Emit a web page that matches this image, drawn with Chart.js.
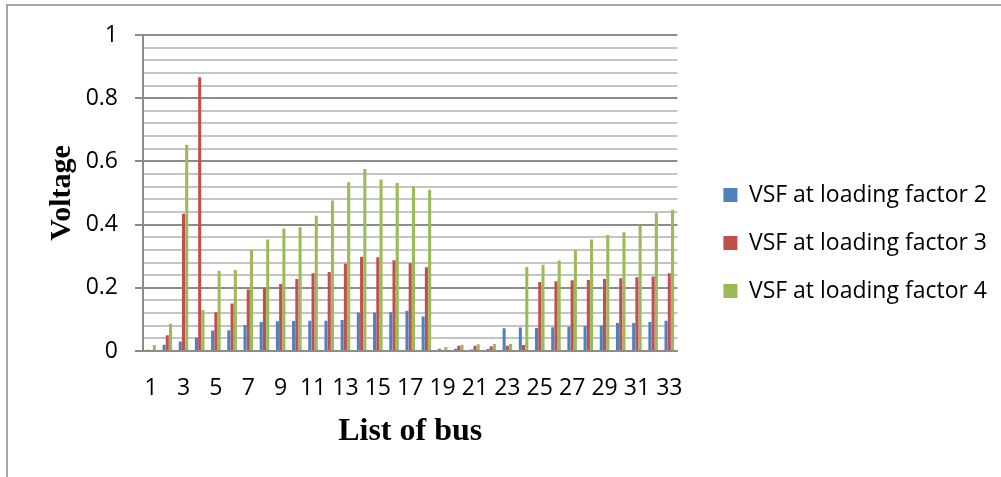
<!DOCTYPE html>
<html>
<head>
<meta charset="utf-8">
<title>VSF at loading factors</title>
<script src="https://cdn.jsdelivr.net/npm/chart.js@4.4.1/dist/chart.umd.min.js"></script>
<style>
	html, body { margin: 0; padding: 0; background: #ffffff; }
	#wrap { position: relative; width: 1001px; height: 477px; overflow: hidden; }
	#frame { position: absolute; left: 6px; top: 4px; width: 1100px; height: 600px; border-left: 2px solid #a6a6a6; border-top: 2px solid #a6a6a6; }
	#vsf-chart { position: absolute; left: 0; top: 0; }
</style>
</head>
<body>
<div id="wrap">
	<div id="frame"></div>
	<canvas id="vsf-chart" width="1001" height="477"></canvas>
</div>
<script>
(function () {
	'use strict';

	var busLabels = ['1', '2', '3', '4', '5', '6', '7', '8', '9', '10', '11', '12', '13', '14', '15', '16', '17',
		'18', '19', '20', '21', '22', '23', '24', '25', '26', '27', '28', '29', '30', '31', '32', '33'];

	var lf2Values = [0.004, 0.02, 0.03, 0.043, 0.065, 0.066, 0.082, 0.092, 0.094, 0.095, 0.096, 0.096, 0.098,
		0.122, 0.122, 0.123, 0.127, 0.109, 0.007, 0.007, 0.005, 0.006, 0.072, 0.074, 0.073, 0.075, 0.077,
		0.079, 0.081, 0.089, 0.089, 0.092, 0.096];

	var lf3Values = [0.002, 0.05, 0.434, 0.866, 0.123, 0.15, 0.195, 0.2, 0.212, 0.228, 0.246, 0.25, 0.276,
		0.298, 0.297, 0.287, 0.278, 0.265, 0.002, 0.017, 0.017, 0.015, 0.017, 0.019, 0.218, 0.221, 0.224,
		0.225, 0.228, 0.23, 0.233, 0.236, 0.246];

	var lf4Values = [0.019, 0.086, 0.653, 0.13, 0.254, 0.256, 0.32, 0.353, 0.388, 0.392, 0.428, 0.476, 0.534,
		0.576, 0.543, 0.532, 0.521, 0.51, 0.013, 0.019, 0.021, 0.022, 0.022, 0.266, 0.273, 0.286, 0.32,
		0.353, 0.367, 0.376, 0.398, 0.437, 0.446];

	var seriesNames = ['VSF at loading factor 2', 'VSF at loading factor 3', 'VSF at loading factor 4'];
	var seriesColors = ['#4f81bd', '#c0504d', '#9bbb59'];

	// labelled gridlines every 0.2, plain ones every 0.04
	var yTickLabels = ['0', '0.2', '0.4', '0.6', '0.8', '1'];
	var yStep = 0.04;

	var tickFont = { family: '"Open Sans", sans-serif', size: 23 };
	var titleFont = { family: '"Liberation Serif", "Times New Roman", serif', size: 32, weight: 'bold' };

	function stepIndex(value) {
		return Math.round(value / yStep);
	}

	function isMajor(context) {
		if (!context || !context.tick) {
			return true;
		}
		return stepIndex(context.tick.value) % 5 === 0;
	}

	function makeDataset(index, values) {
		return {
			label: seriesNames[index],
			data: values,
			backgroundColor: seriesColors[index],
			borderWidth: 0,
			categoryPercentage: 0.6,
			barPercentage: 0.95,
		};
	}

	new Chart(document.getElementById('vsf-chart'), {
		type: 'bar',
		data: {
			labels: busLabels,
			datasets: [
				makeDataset(0, lf2Values),
				makeDataset(1, lf3Values),
				makeDataset(2, lf4Values),
			],
		},
		options: {
			responsive: false,
			animation: false,
			devicePixelRatio: 1,
			layout: {
				padding: { top: 35, right: 4, bottom: 26, left: 0 },
			},
			plugins: {
				legend: {
					position: 'right',
					align: 'center',
					maxWidth: 340,
					labels: {
						boxWidth: 14,
						boxHeight: 14,
						padding: 25,
						color: '#000000',
						font: { family: '"Open Sans", sans-serif', size: 23 },
					},
				},
				tooltip: { enabled: false },
			},
			scales: {
				x: {
					grid: { display: false },
					border: { display: true, color: '#8c8c8c', width: 2 },
					ticks: {
						autoSkip: false,
						maxRotation: 0,
						padding: 16,
						color: '#000000',
						font: tickFont,
						callback: function (value, index) {
							return index % 2 === 0 ? busLabels[index] : '';
						},
					},
					title: {
						display: true,
						text: 'List of bus',
						color: '#000000',
						font: titleFont,
						padding: { top: 0, bottom: 0 },
					},
					afterFit: function (scale) {
						scale.height = 100;
					},
				},
				y: {
					min: 0,
					max: 1,
					grid: {
						lineWidth: 2,
						tickLength: 8,
						color: function (context) {
							return isMajor(context) ? '#8c8c8c' : '#c4c4c4';
						},
						tickColor: function (context) {
							return isMajor(context) ? '#8c8c8c' : 'rgba(0,0,0,0)';
						},
					},
					border: { display: true, color: '#8c8c8c', width: 2 },
					ticks: {
						stepSize: yStep,
						autoSkip: false,
						padding: 17,
						color: '#000000',
						font: tickFont,
						callback: function (value) {
							var k = stepIndex(value);
							return k % 5 === 0 ? yTickLabels[k / 5] : '';
						},
					},
					title: {
						display: true,
						text: 'Voltage',
						color: '#000000',
						font: { family: titleFont.family, size: 30, weight: 'bold' },
						padding: { top: 44, bottom: 0 },
					},
					afterFit: function (scale) {
						scale.width = 143;
					},
				},
				// empty right axis, only keeps the gap between plot and legend
				gap: {
					type: 'linear',
					position: 'right',
					display: true,
					grid: { display: false },
					border: { display: false },
					ticks: { display: false },
					afterFit: function (scale) {
						scale.width = 21;
					},
				},
			},
		},
	});
})();
</script>
</body>
</html>
